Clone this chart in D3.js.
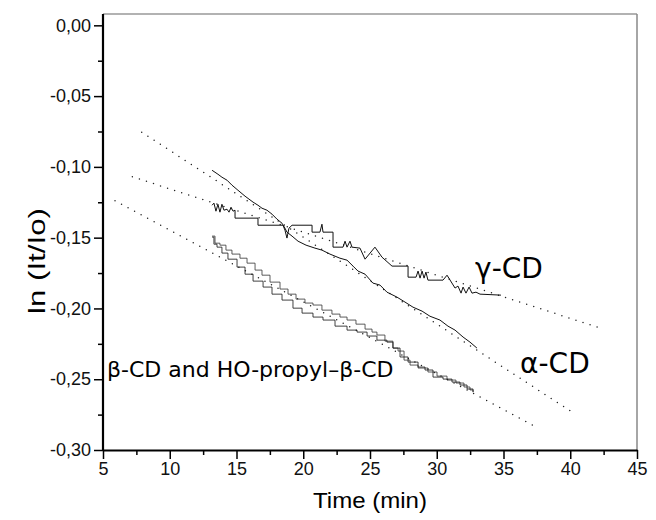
<!DOCTYPE html>
<html>
<head>
<meta charset="utf-8">
<script src="https://cdnjs.cloudflare.com/ajax/libs/d3/7.8.5/d3.min.js"></script>
<style>
  body { margin: 0; background: #fff; }
  svg { display: block; }
  .tick text { font-family: "Liberation Sans", Arial, sans-serif; font-size: 18px; fill: #111; }
</style>
</head>
<body>
<svg id="chart" width="656" height="520"></svg>
<script>
// measured curves, [time (min), ln(It/Io)]
var alphaCD = [[13.17,-0.1024],[13.61,-0.1052],[13.91,-0.1073],[14.29,-0.1094],[14.66,-0.1129],[15.11,-0.1165],
  [15.64,-0.1207],[16.24,-0.1249],[16.61,-0.1271],[16.91,-0.1292],[17.28,-0.1306],[17.66,-0.1334],[18.03,-0.1369],
  [18.41,-0.1398],[18.63,-0.1433],[18.78,-0.1461],[19.16,-0.1489],[19.61,-0.1525],[20.21,-0.1553],[20.88,-0.1574],
  [21.40,-0.1588],[22.00,-0.1616],[22.75,-0.1645],[23.28,-0.1659],[23.73,-0.1701],[24.10,-0.1736],[24.63,-0.1758],
  [25.22,-0.1821],[25.75,-0.1835],[26.27,-0.1885],[27.02,-0.1920],[27.62,-0.1955],[28.22,-0.1991],[28.90,-0.2019],
  [29.49,-0.2055],[30.24,-0.2082],[30.84,-0.2125],[31.37,-0.2153],[31.97,-0.2202],[32.49,-0.2238],[33.01,-0.2280]];

var gammaCD = [[13.17,-0.1271],[13.31,-0.1256],[13.46,-0.1313],[13.61,-0.1264],[13.76,-0.1320],[13.91,-0.1264],
  [14.06,-0.1306],[14.29,-0.1299],[14.44,-0.1320],[14.59,-0.1285],[14.74,-0.1313],[14.89,-0.1306],[14.89,-0.1362],
  [16.61,-0.1362],[16.61,-0.1412],[18.48,-0.1412],[18.63,-0.1447],[18.78,-0.1503],[18.93,-0.1433],[19.16,-0.1412],
  [20.66,-0.1412],[20.66,-0.1461],[21.25,-0.1461],[21.40,-0.1405],[21.48,-0.1461],[22.23,-0.1461],[22.23,-0.1567],
  [22.98,-0.1567],[23.13,-0.1525],[23.28,-0.1567],[23.50,-0.1525],[23.65,-0.1567],[24.25,-0.1574],[24.63,-0.1652],
  [25.37,-0.1567],[25.90,-0.1638],[26.65,-0.1701],[27.85,-0.1701],[27.85,-0.1779],[28.45,-0.1779],[28.60,-0.1736],
  [28.75,-0.1786],[28.90,-0.1736],[29.05,-0.1786],[29.19,-0.1743],[29.34,-0.1800],[30.47,-0.1800],[30.77,-0.1765],
  [31.37,-0.1856],[31.59,-0.1842],[31.82,-0.1892],[31.97,-0.1849],[32.19,-0.1892],[32.42,-0.1849],[32.64,-0.1892],
  [32.94,-0.1885],[33.24,-0.1899],[34.81,-0.1906]];

var betaCD = [[13.17,-0.1489],[13.39,-0.1539],[13.76,-0.1553],[14.21,-0.1588],[14.66,-0.1616],[15.26,-0.1645],
  [15.79,-0.1680],[16.39,-0.1729],[16.91,-0.1765],[17.51,-0.1814],[18.26,-0.1863],[18.86,-0.1899],[19.46,-0.1934],
  [20.13,-0.1962],[20.73,-0.1976],[21.40,-0.2012],[22.15,-0.2040],[22.75,-0.2061],[23.28,-0.2082],[23.95,-0.2111],
  [24.63,-0.2146],[25.15,-0.2167],[25.52,-0.2188],[26.12,-0.2231],[26.72,-0.2280],[27.10,-0.2301],[27.55,-0.2365],
  [28.00,-0.2400],[28.60,-0.2421],[29.34,-0.2449],[30.02,-0.2478],[30.77,-0.2506],[31.44,-0.2527],[32.04,-0.2555],
  [32.49,-0.2576],[32.72,-0.2591]];

var hpBetaCD = [[13.17,-0.1496],[13.31,-0.1546],[13.54,-0.1567],[13.91,-0.1609],[14.36,-0.1652],[15.04,-0.1708],
  [15.64,-0.1758],[16.24,-0.1807],[16.99,-0.1849],[17.66,-0.1899],[18.41,-0.1941],[19.23,-0.1998],[19.91,-0.2033],
  [20.73,-0.2061],[21.48,-0.2082],[22.38,-0.2125],[23.28,-0.2153],[24.03,-0.2167],[24.78,-0.2195],[25.52,-0.2224],
  [26.27,-0.2238],[26.72,-0.2280],[27.25,-0.2343],[27.85,-0.2379],[28.60,-0.2414],[29.12,-0.2435],[29.72,-0.2485],
  [30.47,-0.2499],[31.14,-0.2520],[31.74,-0.2541],[32.27,-0.2569],[32.72,-0.2591]];

// linear fits (dotted)
var alphaFit = [[7.9,-0.0755],[40.4,-0.2748]];
var gammaFit = [[7.2,-0.107],[42.3,-0.214]];
var betaFit  = [[5.9,-0.124],[37.5,-0.284]];

var xTicks = [5,10,15,20,25,30,35,40,45];
var yTicks = [0,-0.05,-0.10,-0.15,-0.20,-0.25,-0.30];

var labels = [
  {text:"\u03b3-CD", t:32.87, v:-0.1786, size:28},
  {text:"\u03b1-CD", t:36.24, v:-0.2456, size:28},
  {text:"\u03b2-CD and HO-propyl\u2013\u03b2-CD", t:5.3, v:-0.2485, size:22}
];

var svg = d3.select("#chart");

var x = d3.scaleLinear().domain([5,45]).range([103,637]);
var y = d3.scaleLinear().domain([-0.30,0.008]).range([450,14]);

var fmt = function(d){ return d3.format(".2f")(d).replace("\u2212","-").replace(".",","); };

// frame, top and right
svg.append("line").attr("x1",x(5)).attr("x2",x(45)).attr("y1",y(0.008)).attr("y2",y(0.008))
  .attr("stroke","#666").attr("stroke-width",1.2);
svg.append("line").attr("x1",x(45)).attr("x2",x(45)).attr("y1",y(0.008)).attr("y2",y(-0.30))
  .attr("stroke","#888").attr("stroke-width",1.5);

// minor ticks
svg.append("g").attr("transform","translate(0,"+y(-0.30)+")")
  .call(d3.axisBottom(x).tickValues(d3.range(7.5,45,5)).tickSize(5).tickFormat(""))
  .call(function(g){ g.select(".domain").remove(); g.selectAll("line").attr("stroke","#000").attr("stroke-width",1.5); });
svg.append("g").attr("transform","translate("+x(5)+",0)")
  .call(d3.axisLeft(y).tickValues(d3.range(-0.275,0,0.05)).tickSize(5).tickFormat(""))
  .call(function(g){ g.select(".domain").remove(); g.selectAll("line").attr("stroke","#000").attr("stroke-width",1.5); });

var xAxis = svg.append("g").attr("transform","translate(0,"+y(-0.30)+")")
  .call(d3.axisBottom(x).tickValues(xTicks).tickSize(9).tickPadding(3).tickSizeOuter(0));
var yAxis = svg.append("g").attr("transform","translate("+x(5)+",0)")
  .call(d3.axisLeft(y).tickValues(yTicks).tickSize(9).tickPadding(3).tickFormat(fmt).tickSizeOuter(0));

[xAxis,yAxis].forEach(function(g){
  g.select(".domain").attr("stroke","#000").attr("stroke-width",2.2);
  g.selectAll(".tick line").attr("stroke","#000").attr("stroke-width",1.5);
});
yAxis.select(".domain").attr("d","M0,"+y(0.008)+"V"+(y(-0.30)+1));

var line = d3.line().x(function(d){return x(d[0]);}).y(function(d){return y(d[1]);});
var stepLine = d3.line().x(function(d){return x(d[0]);}).y(function(d){return y(d[1]);}).curve(d3.curveStepAfter);

[alphaFit,gammaFit,betaFit].forEach(function(f){
  svg.append("path").attr("d",line(f)).attr("fill","none")
    .attr("stroke","#222").attr("stroke-width",1.5)
    .attr("stroke-linecap","round").attr("stroke-dasharray","0,7.4");
});

svg.append("path").attr("d",line(alphaCD)).attr("fill","none").attr("stroke","#111").attr("stroke-width",1);
svg.append("path").attr("d",line(gammaCD)).attr("fill","none").attr("stroke","#111").attr("stroke-width",1);
svg.append("path").attr("d",stepLine(betaCD)).attr("fill","none").attr("stroke","#333").attr("stroke-width",0.8);
svg.append("path").attr("d",stepLine(hpBetaCD)).attr("fill","none").attr("stroke","#111").attr("stroke-width",0.8);

svg.selectAll(".lbl").data(labels).enter().append("text").attr("class","lbl")
  .attr("x",function(d){return x(d.t);}).attr("y",function(d){return y(d.v);})
  .style("font-family","'DejaVu Sans', sans-serif").style("font-size",function(d){return d.size+"px";})
  .attr("fill","#000").text(function(d){return d.text;});

svg.append("text").attr("x",x(25)).attr("y",508).attr("text-anchor","middle")
  .attr("textLength",114).attr("lengthAdjust","spacingAndGlyphs")
  .style("font-family","'Liberation Sans', Arial, sans-serif").style("font-size","22px").text("Time (min)");
svg.append("text").attr("transform","translate(45,261) rotate(-90)").attr("text-anchor","middle")
  .attr("textLength",106).attr("lengthAdjust","spacingAndGlyphs")
  .style("font-family","'Liberation Sans', Arial, sans-serif").style("font-size","24px")
  .text("ln (It/Io)");
</script>
</body>
</html>
